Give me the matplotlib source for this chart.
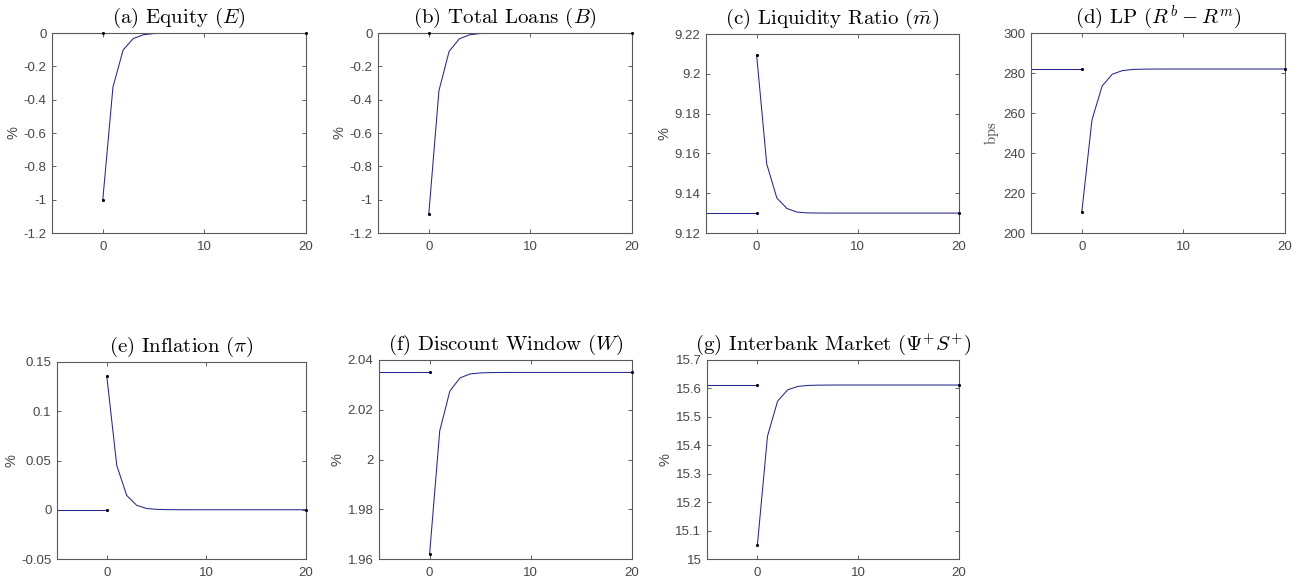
import numpy as np
import matplotlib
matplotlib.use("Agg")
import matplotlib.pyplot as plt

plt.rcParams['mathtext.fontset'] = 'cm'
plt.rcParams['font.family'] = ['Liberation Sans', 'DejaVu Sans']

# horizon: pre-shock periods -5..0, response 0..20
t_pre = [-5, 0]
t_post = list(range(0, 21))

# steady states and impulse responses
equity_ss = 0.0
equity = [-1.0, -0.324, -0.102, -0.033, -0.0105, -0.0034, -0.0011, -0.0004, -0.0001,
          0, 0, 0, 0, 0, 0, 0, 0, 0, 0, 0, 0]

loans_ss = 0.0
loans = [-1.085, -0.345, -0.110, -0.035, -0.011, -0.0035, -0.0011, -0.0004, -0.0001,
         0, 0, 0, 0, 0, 0, 0, 0, 0, 0, 0, 0]

liq_ss = 9.13
liq = [9.2096, 9.1547, 9.1376, 9.1323, 9.1305, 9.1301, 9.13003, 9.13001, 9.13,
       9.13, 9.13, 9.13, 9.13, 9.13, 9.13, 9.13, 9.13, 9.13, 9.13, 9.13, 9.13]

lp_ss = 282.0
lp = [210.5, 256.5, 273.5, 279.4, 281.2, 281.75, 281.92, 281.97, 281.99,
      282, 282, 282, 282, 282, 282, 282, 282, 282, 282, 282, 282]

infl_ss = 0.0
infl = [0.1355, 0.0450, 0.0145, 0.0045, 0.0013, 0.0004, 0.00012, 0.00004, 0.00001,
        0, 0, 0, 0, 0, 0, 0, 0, 0, 0, 0, 0]

dw_ss = 2.035
dw = [1.962, 2.0115, 2.0275, 2.0328, 2.0344, 2.0348, 2.03494, 2.03498, 2.035,
      2.035, 2.035, 2.035, 2.035, 2.035, 2.035, 2.035, 2.035, 2.035, 2.035, 2.035, 2.035]

ib_ss = 15.612
ib = [15.05, 15.432, 15.555, 15.595, 15.607, 15.6105, 15.6115, 15.6118, 15.612,
      15.612, 15.612, 15.612, 15.612, 15.612, 15.612, 15.612, 15.612, 15.612, 15.612, 15.612, 15.612]

titles = [r"(a) Equity ($E$)", r"(b) Total Loans ($B$)", r"(c) Liquidity Ratio ($\bar{m}$)",
          r"(d) LP ($R^b - R^m$)", r"(e) Inflation ($\pi$)", r"(f) Discount Window ($W$)",
          r"(g) Interbank Market ($\Psi^{+} S^{+}$)"]
ylabels = ["%", "%", "%", r"$\mathrm{bps}$", "%", "%", "%"]
series = [equity, loans, liq, lp, infl, dw, ib]
steady = [equity_ss, loans_ss, liq_ss, lp_ss, infl_ss, dw_ss, ib_ss]
ylims = [(-1.2, 0), (-1.2, 0), (9.12, 9.22), (200, 300), (-0.05, 0.15), (1.96, 2.04), (15.0, 15.7)]
yticks = [np.arange(-1.2, 0.01, 0.2), np.arange(-1.2, 0.01, 0.2), np.arange(9.12, 9.2201, 0.02),
          np.arange(200, 301, 20), np.arange(-0.05, 0.151, 0.05), np.arange(1.96, 2.0401, 0.02),
          np.arange(15.0, 15.701, 0.1)]
ydigits = [2, 2, 2, 0, 2, 2, 1]


def fmt(v, d):
    v = round(v, d) + 0.0
    if v == 0:
        return "0"
    return "%g" % v


# axes boxes in pixels: left, top, right, bottom
W, H = 1307, 583
boxes = [(52, 33, 306, 233), (378, 33, 632, 233), (706, 34, 959, 233), (1031, 33, 1285, 233),
         (57, 362, 306, 559), (379, 360, 632, 559), (707, 360, 959, 559)]

line_c = '#262690'
grey = '#474747'

fig = plt.figure(figsize=(W / 100, H / 100), dpi=100)
for i in range(7):
    l, t, r, b = boxes[i]
    ax = fig.add_axes([l / W, 1 - b / H, (r - l) / W, (b - t) / H])
    ss = steady[i]
    ax.plot(t_pre, [ss, ss], color=line_c, lw=0.75)
    ax.plot(t_post, series[i], color=line_c, lw=0.75)
    # end-point dots like the original figure
    ax.plot([0, 0, 20], [ss, series[i][0], series[i][-1]], ls='none', marker='.',
            ms=2.5, color='black', clip_on=False, zorder=5)
    ax.set_xlim(-5, 20)
    ax.set_ylim(*ylims[i])
    ax.set_xticks([0, 10, 20])
    ax.set_yticks(yticks[i])
    ax.set_yticklabels([fmt(v, ydigits[i]) for v in yticks[i]])
    ax.tick_params(direction='in', top=True, right=True, length=3, width=0.6,
                   colors=grey, labelsize=9.5, pad=4)
    ax.tick_params(axis='x', pad=6)
    for s in ax.spines.values():
        s.set_color('#5a5a5a')
        s.set_linewidth(0.8)
    ax.set_title(titles[i], fontsize=15, family='cmr10', pad=7)
    ax.set_ylabel(ylabels[i], color=grey, fontsize=10.5, labelpad=2)

fig.savefig("out.png", dpi=100)
